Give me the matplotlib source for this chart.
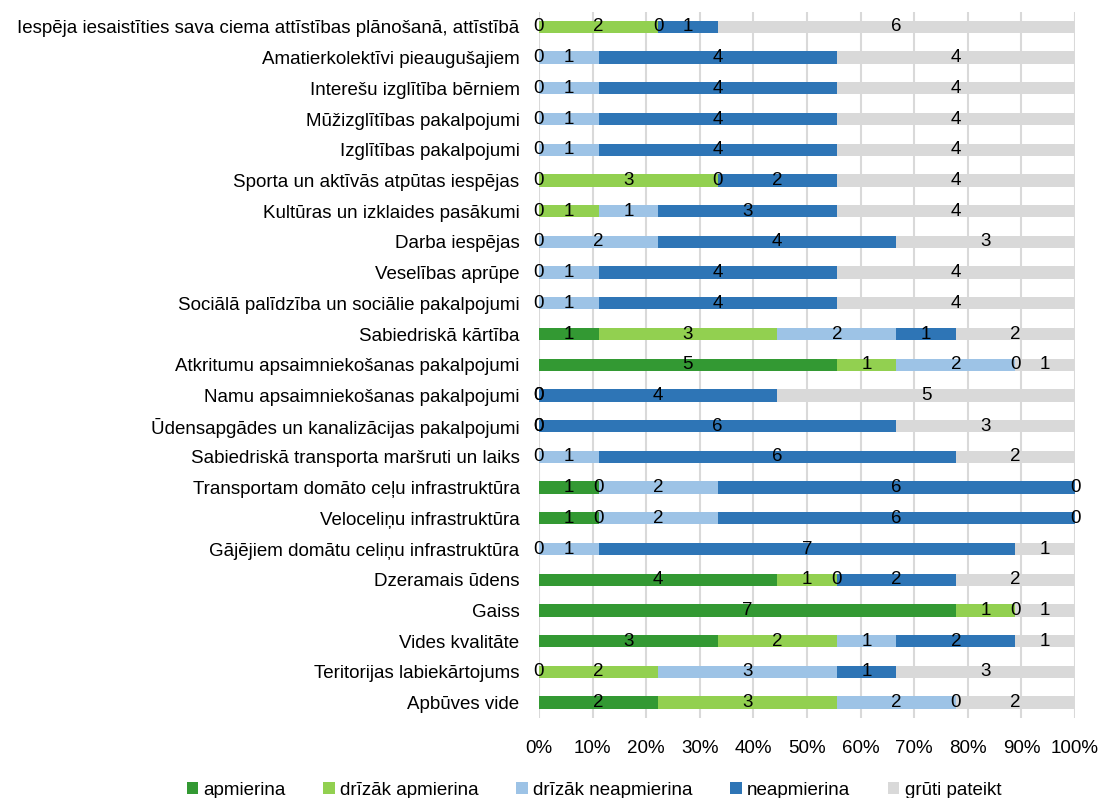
import numpy as np
import matplotlib
matplotlib.use("Agg")
import matplotlib.pyplot as plt

nan = np.nan

categories = [
    "Iespēja iesaistīties sava ciema attīstības plānošanā, attīstībā",
    "Amatierkolektīvi pieaugušajiem",
    "Interešu izglītība bērniem",
    "Mūžizglītības pakalpojumi",
    "Izglītības pakalpojumi",
    "Sporta un aktīvās atpūtas iespējas",
    "Kultūras un izklaides pasākumi",
    "Darba iespējas",
    "Veselības aprūpe",
    "Sociālā palīdzība un sociālie pakalpojumi",
    "Sabiedriskā kārtība",
    "Atkritumu apsaimniekošanas pakalpojumi",
    "Namu apsaimniekošanas pakalpojumi",
    "Ūdensapgādes un kanalizācijas pakalpojumi",
    "Sabiedriskā transporta maršruti un laiks",
    "Transportam domāto ceļu infrastruktūra",
    "Veloceliņu infrastruktūra",
    "Gājējiem domātu celiņu infrastruktūra",
    "Dzeramais ūdens",
    "Gaiss",
    "Vides kvalitāte",
    "Teritorijas labiekārtojums",
    "Apbūves vide",
]

series_names = ["apmierina", "drīzāk apmierina", "drīzāk neapmierina",
                "neapmierina", "grūti pateikt"]

apmierina = [0, 0, 0, 0, 0, 0, 0, 0, 0, 0, 1, 5, 0, 0, 0, 1, 1, 0, 4, 7, 3, 0, 2]
drizak_apm = [2, nan, nan, nan, nan, 3, 1, nan, nan, nan, 3, 1, nan, nan, nan,
              0, 0, nan, 1, 1, 2, 2, 3]
drizak_neapm = [0, 1, 1, 1, 1, 0, 1, 2, 1, 1, 2, 2, 0, 0, 1, 2, 2, 1, 0, 0, 1, 3, 2]
neapmierina = [1, 4, 4, 4, 4, 2, 3, 4, 4, 4, 1, 0, 4, 6, 6, 6, 6, 7, 2, nan, 2, 1, 0]
gruti = [6, 4, 4, 4, 4, 4, 4, 3, 4, 4, 2, 1, 5, 3, 2, 0, 0, 1, 2, 1, 1, 3, 2]

colors = ["#339933", "#92d050", "#9dc3e6", "#2e75b6", "#d9d9d9"]

plt.rcParams["font.family"] = ["Liberation Sans", "DejaVu Sans"]
fontsize = 13.5

data = np.array([apmierina, drizak_apm, drizak_neapm, neapmierina, gruti], dtype=float)
vals = np.nan_to_num(data)
totals = vals.sum(axis=0)
pct = vals / totals

fig = plt.figure(figsize=(11, 7.98), dpi=100)
ax = fig.add_axes([0.49, 0.1003, 0.4873, 0.8852])

y = np.arange(len(categories))
left = np.zeros(len(categories))
for i, name in enumerate(series_names):
    ax.barh(y, pct[i], left=left, height=0.4, color=colors[i], label=name, zorder=2)
    for j in range(len(categories)):
        if not np.isnan(data[i, j]):
            ax.text(left[j] + pct[i, j] / 2, y[j], "%d" % data[i, j],
                    ha="center", va="center", fontsize=fontsize, zorder=3)
    left = left + pct[i]

ax.set_xlim(0, 1)
ax.set_ylim(len(categories) - 0.5, -0.5)
ax.set_yticks(y)
ax.set_yticklabels(categories, fontsize=fontsize)
ax.set_xticks(np.linspace(0, 1, 11))
ax.set_xticklabels(["%d%%" % v for v in range(0, 101, 10)], fontsize=fontsize)
ax.tick_params(length=0)
ax.tick_params(axis="y", pad=14)
ax.tick_params(axis="x", pad=16)
ax.xaxis.grid(True, color="#d9d9d9", linewidth=1.5, zorder=0)
for s in ax.spines.values():
    s.set_visible(False)

fig.legend(loc="lower center", bbox_to_anchor=(0.54, -0.022), ncol=5, frameon=False,
           fontsize=fontsize, handlelength=0.6, handleheight=0.6, handletextpad=0.3,
           columnspacing=2.0)

fig.savefig("out.png", dpi=100)
